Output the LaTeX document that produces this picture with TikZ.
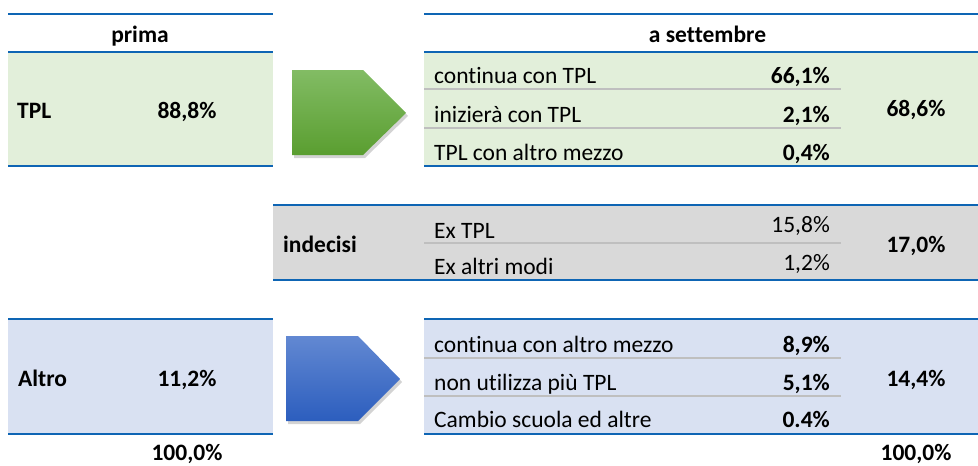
\documentclass[tikz,border=0pt]{standalone}
\usepackage{fontspec}
\setmainfont{Carlito}[Ligatures=NoCommon]
\usetikzlibrary{shadows}
\definecolor{tabline}{RGB}{14,101,180}
\definecolor{sepgray}{RGB}{191,191,191}
\definecolor{cellgreen}{RGB}{226,239,218}
\definecolor{cellgray}{RGB}{217,217,217}
\definecolor{cellblue}{RGB}{217,225,242}
\definecolor{greentop}{RGB}{130,188,100}
\definecolor{greenbot}{RGB}{90,158,48}
\definecolor{bluetop}{RGB}{98,136,210}
\definecolor{bluebot}{RGB}{44,94,190}
\newcommand\tabfont{\fontsize{23.5}{28}\selectfont}
\tikzset{
  rule/.style={tabline,line width=2.5pt},
  sepline/.style={sepgray,line width=1.5pt},
  cell/.style={inner sep=0pt,text height=15pt,text depth=0pt,font=\tabfont},
  bcell/.style={cell,font=\tabfont\bfseries},
  lab/.style={cell,anchor=west},
  blab/.style={bcell,anchor=west},
  val/.style={cell,anchor=east},
  bval/.style={bcell,anchor=east},
  bigarrow/.style={drop shadow={opacity=0.35,shadow xshift=2pt,shadow yshift=-3pt}}
}
\begin{document}
\begin{tikzpicture}[x=1pt,y=-1pt]
\useasboundingbox (0,0) rectangle (978,466);
\pgfmathsetmacro{\kvx}{830}
\pgfmathsetmacro{\ktx}{916}
% cell backgrounds
\fill[cellgreen](8,52) rectangle (273,166);
\fill[cellgreen](424,52) rectangle (978,166);
\fill[cellgray](273,205) rectangle (978,280);
\fill[cellblue](8,319) rectangle (273,434);
\fill[cellblue](424,319) rectangle (978,434);
% rules
\foreach \ry in {14,52,166,319,434}{
  \draw[rule](8,\ry)--(273,\ry);
  \draw[rule](424,\ry)--(978,\ry);
}
\foreach \ry in {205,280}\draw[rule](273,\ry)--(978,\ry);
\foreach \ry in {89,128,243,358,396}\draw[sepline](424,\ry)--(841,\ry);
% arrows
\path[bigarrow,top color=greentop,bottom color=greenbot](292,70)--(363,70)--(406,113)--(363,155)--(292,155)--cycle;
\path[bigarrow,top color=bluetop,bottom color=bluebot](286,336)--(358,336)--(400,379)--(358,421)--(286,421)--cycle;
% headers
\node[bcell](prima) at (140,35){prima};
\node[bcell](sett) at (707.5,35){a settembre};
% TPL
\node[blab](tpl) at (17,110.5){TPL};
\node[bcell](tplv) at (187,110.5){88,8\%};
\node[lab](cont) at (434,76){continua con TPL};
\node[bval](contv) at (\kvx,76){66,1\%};
\node[lab](iniz) at (434,115){inizierà con TPL};
\node[bval](inizv) at (\kvx,115){2,1\%};
\node[lab](altm) at (434,153){TPL con altro mezzo};
\node[bval](altmv) at (\kvx,153){0,4\%};
\node[bcell](tottpl) at (\ktx,109){68,6\%};
% indecisi
\node[blab](indec) at (283,244.5){indecisi};
\node[lab](extpl) at (434,231){Ex TPL};
\node[val](extplv) at (\kvx,225){15,8\%};
\node[lab](exalt) at (434,267){Ex altri modi};
\node[val](exaltv) at (\kvx,263){1,2\%};
\node[bcell](totind) at (\ktx,244.5){17,0\%};
% Altro
\node[blab](altro) at (18,378.5){Altro};
\node[bcell](altrov) at (187,378.5){11,2\%};
\node[lab](calt) at (434,344.5){continua con altro mezzo};
\node[bval](caltv) at (\kvx,345){8,9\%};
\node[lab](nonu) at (434,382.5){non utilizza più TPL};
\node[bval](nonuv) at (\kvx,382.5){5,1\%};
\node[lab](camb) at (434,420){Cambio scuola ed altre};
\node[bval](cambv) at (\kvx,419.5){0.4\%};
\node[bcell](totalt) at (\ktx,378.5){14,4\%};
% totals
\node[bcell](sumprima) at (187,453){100,0\%};
\node[bcell](sumsett) at (\ktx,453){100,0\%};
\end{tikzpicture}
\end{document}
